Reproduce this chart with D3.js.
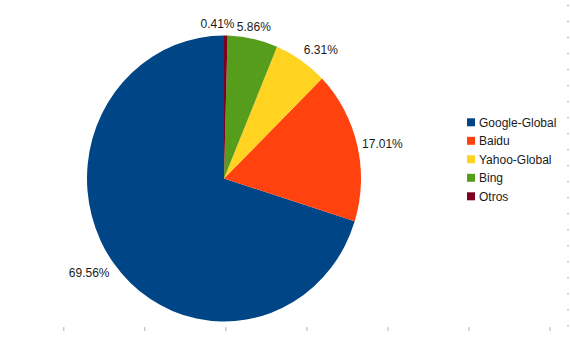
<!DOCTYPE html>
<html>
<head>
<meta charset="utf-8">
<script src="https://cdn.jsdelivr.net/npm/d3@7"></script>
<style>
html,body{margin:0;padding:0;background:#fff;}
svg{display:block;font-family:"Liberation Sans",Arial,sans-serif;}
</style>
</head>
<body>
<svg id="chart" width="570" height="340"></svg>
<script>
const categories = ["Google-Global", "Baidu", "Yahoo-Global", "Bing", "Otros"];
const values = [69.56, 17.01, 6.31, 5.86, 0.41];
const labels = ["69.56%", "17.01%", "6.31%", "5.86%", "0.41%"];
const colors = ["#004586", "#ff420e", "#ffd320", "#579d1c", "#7e0021"];
const xTicks = [0, 1, 2, 3, 4, 5, 6];
const yTicks = [0,1,2,3,4,5,6,7,8,9,10,11,12,13,14,15,16,17,18,19,20];

const svg = d3.select("#chart");
const cx = 224, cy = 178.5, rx = 137, ry = 143;
const fontSize = 12;

// residual axis ticks
const xs = d3.scaleLinear().domain([0, 6]).range([63.3, 549.5]);
const gx = svg.append("g").attr("transform", "translate(0,327)")
  .call(d3.axisBottom(xs).tickValues(xTicks).tickSize(4).tickFormat(""));
gx.select(".domain").remove();
gx.selectAll("line").attr("stroke", "#b3b3b3");

const ys = d3.scaleLinear().domain([0, 20]).range([325.3, 5]);
const gy = svg.append("g").attr("transform", "translate(567,0)")
  .call(d3.axisRight(ys).tickValues(yTicks).tickSize(2).tickFormat(""));
gy.select(".domain").remove();
gy.selectAll("line").attr("stroke", "#b3b3b3");

// pie
const data = categories.map((c, i) => ({ cat: c, value: values[i], label: labels[i], color: colors[i] }));
const pie = d3.pie().sort(null).value(d => d.value).startAngle(0).endAngle(-2 * Math.PI);
const arcs = pie(data);
const arc = d3.arc().innerRadius(0).outerRadius(ry);

const pg = svg.append("g").attr("transform", `translate(${cx},${cy}) scale(${rx / ry},1)`);
pg.selectAll("path").data(arcs).enter().append("path")
  .attr("d", arc)
  .attr("fill", d => d.data.color);

// labels
const d0 = 5;
const lg = svg.append("g");
const texts = arcs.map(a => {
  const m = (a.startAngle + a.endAngle) / 2;
  const sx = Math.sin(m), sy = -Math.cos(m);
  const px = cx + sx * (rx + d0), py = cy + sy * (ry + d0);
  let anchor = "middle";
  if (Math.abs(sx) >= 0.35) anchor = sx > 0 ? "start" : "end";
  let by;
  if (Math.abs(sy) < 0.35) by = py + (0.905 - 0.212) / 2 * fontSize;
  else if (sy < 0) by = py - 0.212 * fontSize;
  else by = py + 0.905 * fontSize;
  const t = lg.append("text")
    .attr("x", px).attr("y", by)
    .attr("text-anchor", anchor)
    .attr("font-size", fontSize)
    .attr("fill", "#1a1a1a")
    .text(a.data.label);
  return { t, value: a.data.value };
});
// simple overlap avoidance: shift smaller label away from its neighbour
for (let i = 0; i < texts.length; i++) {
  for (let j = 0; j < texts.length; j++) {
    if (i === j) continue;
    const A = texts[i].t.node().getBBox(), B = texts[j].t.node().getBBox();
    const overlapX = Math.min(A.x + A.width, B.x + B.width) - Math.max(A.x, B.x);
    const overlapY = Math.min(A.y + A.height, B.y + B.height) - Math.max(A.y, B.y);
    if (overlapX > 0 && overlapY > 0 && texts[i].value < texts[j].value) {
      const dir = (A.x + A.width / 2) < (B.x + B.width / 2) ? -1 : 1;
      texts[i].t.attr("x", +texts[i].t.attr("x") + dir * (overlapX + 2));
    }
  }
}

// legend
const leg = svg.append("g").attr("transform", "translate(467,118.3)");
const items = leg.selectAll("g").data(data).enter().append("g")
  .attr("transform", (d, i) => `translate(0,${i * 18.5})`);
items.append("rect").attr("width", 8).attr("height", 8).attr("fill", d => d.color);
items.append("text").attr("x", 12).attr("y", 8.5)
  .attr("font-size", fontSize).attr("fill", "#1a1a1a")
  .text(d => d.cat);
</script>
</body>
</html>
